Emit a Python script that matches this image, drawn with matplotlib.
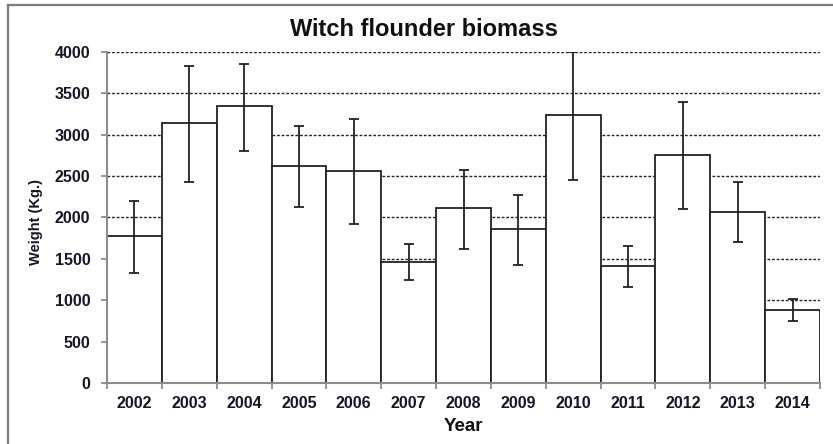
import numpy as np
import matplotlib.pyplot as plt
from matplotlib.lines import Line2D

plt.rcParams['font.family'] = ['Liberation Sans', 'DejaVu Sans']

years = ['2002', '2003', '2004', '2005', '2006', '2007', '2008',
         '2009', '2010', '2011', '2012', '2013', '2014']
biomass = [1780, 3140, 3345, 2625, 2565, 1460, 2115,
           1860, 3235, 1415, 2755, 2065, 885]
err_hi = [2200, 3825, 3860, 3105, 3190, 1685, 2580,
          2275, 4000, 1650, 3395, 2435, 1010]
err_lo = [1335, 2435, 2805, 2130, 1925, 1240, 1625,
          1420, 2455, 1160, 2100, 1700, 745]
yticks = [0, 500, 1000, 1500, 2000, 2500, 3000, 3500, 4000]


def main():
    W, H = 833, 444
    fig = plt.figure(figsize=(W / 100, H / 100), dpi=100)
    ax = fig.add_axes([107 / W, 1 - 383 / H, (820 - 107) / W, (383 - 52) / H])

    x = np.arange(len(years))
    b = np.array(biomass)
    yerr = [b - np.array(err_lo), np.array(err_hi) - b]

    # dashed grid behind the bars
    for v in yticks[1:]:
        ax.axhline(v, color='#222222', lw=1.0, ls=(0, (2.0, 1.3)), zorder=0)

    ax.bar(x, b, width=1.0, color='white', edgecolor='#222222', lw=1.3, zorder=2)
    ax.errorbar(x, b, yerr=yerr, fmt='none', ecolor='#222222', elinewidth=1.3,
                capsize=3.3, capthick=1.3, zorder=3)

    ax.set_xlim(-0.5, len(years) - 0.5)
    ax.set_ylim(0, 4000)
    ax.set_yticks(yticks)
    ax.set_xticks(x)
    ax.set_xticklabels(years)
    ax.set_xticks(np.arange(-0.5, len(years)), minor=True)

    for s in ['top', 'right']:
        ax.spines[s].set_visible(False)
    for s in ['left', 'bottom']:
        ax.spines[s].set_color('#8c8c8c')
        ax.spines[s].set_linewidth(1.5)

    ax.tick_params(axis='y', direction='out', length=4, width=1.3, color='#8c8c8c',
                   pad=8, labelsize=11.5, labelcolor='#161628')
    ax.tick_params(axis='x', which='major', length=0, pad=9, labelsize=11.5,
                   labelcolor='#161628')
    ax.tick_params(axis='x', which='minor', direction='out', length=4, width=1.3,
                   color='#8c8c8c')
    for lab in ax.get_xticklabels() + ax.get_yticklabels():
        lab.set_fontweight('bold')

    fig.text(36 / W, 1 - 222 / H, 'Weight (Kg.)', rotation=90, ha='center',
             va='center', fontsize=10.5, fontweight='bold', color='#161628')
    fig.text(463 / W, 1 - 426 / H, 'Year', ha='center', va='center',
             fontsize=13.5, fontweight='bold', color='#111111')
    fig.text(424 / W, 1 - 30 / H, 'Witch flounder biomass', ha='center',
             va='center', fontsize=17, fontweight='bold', color='#111111')

    # outer frame (left and top edges visible)
    fig.add_artist(Line2D([8 / W, 1.0], [1 - 5 / H, 1 - 5 / H],
                          transform=fig.transFigure, color='#7a7a7a', lw=1.6))
    fig.add_artist(Line2D([8 / W, 8 / W], [0.0, 1 - 5 / H],
                          transform=fig.transFigure, color='#7a7a7a', lw=1.6))

    fig.savefig('out.png', dpi=100)


if __name__ == '__main__':
    main()
